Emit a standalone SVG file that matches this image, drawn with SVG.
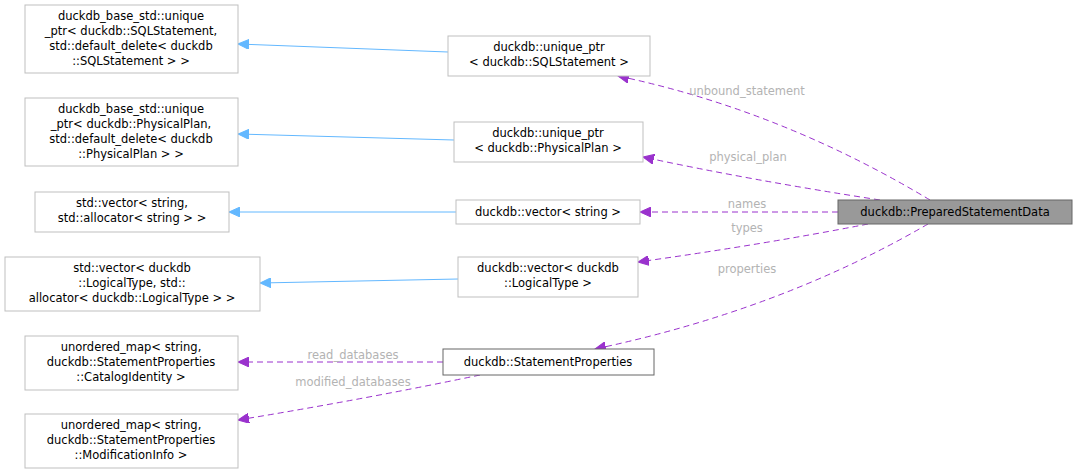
<svg xmlns="http://www.w3.org/2000/svg" width="1077" height="474" viewBox="0 0 1077 474">
<defs>
<marker id="blue" markerWidth="12" markerHeight="10" refX="11" refY="5" orient="auto" markerUnits="userSpaceOnUse"><path d="M0,0 L11,5 L0,10 Z" fill="#63b8ff" stroke="#63b8ff"/></marker>
<marker id="purp" markerWidth="12" markerHeight="10" refX="11" refY="5" orient="auto" markerUnits="userSpaceOnUse"><path d="M0,0 L11,5 L0,10 Z" fill="#9a32cd" stroke="#9a32cd"/></marker>
</defs>
<style>
rect{fill:#fff;stroke:#bfbfbf;stroke-width:1}
text{font-family:"DejaVu Sans",sans-serif;font-size:11.5px;fill:#000;text-anchor:middle}
.lbl{fill:#b3b3b3;font-size:11.5px}
.inh{stroke:#63b8ff;fill:none;stroke-width:1}
.use{stroke:#9a32cd;fill:none;stroke-width:1;stroke-dasharray:6,4}
</style>
<rect width="1077" height="474" style="fill:#fff;stroke:none"/>
<g id="connectors">
<path class="inh" d="M448,52 L238,44" marker-end="url(#blue)"/>
<path class="inh" d="M454,140 L238,134" marker-end="url(#blue)"/>
<path class="inh" d="M456,212 L229,212" marker-end="url(#blue)"/>
<path class="inh" d="M458,279 L260,283" marker-end="url(#blue)"/>
<path class="use" d="M930,200 Q780,110 618,76" marker-end="url(#purp)"/>
<path class="use" d="M880,200 Q750,180 643,157" marker-end="url(#purp)"/>
<path class="use" d="M838,212 L640,212" marker-end="url(#purp)"/>
<path class="use" d="M868,224 Q760,245 638,262" marker-end="url(#purp)"/>
<path class="use" d="M928,224 Q780,310 595,349" marker-end="url(#purp)"/>
<path class="use" d="M443,362 L238,362" marker-end="url(#purp)"/>
<path class="use" d="M480,375 Q360,400 238,420" marker-end="url(#purp)"/>
<text class="lbl" x="747" y="95">unbound_statement</text>
<text class="lbl" x="748" y="161">physical_plan</text>
<text class="lbl" x="747" y="208">names</text>
<text class="lbl" x="747" y="232">types</text>
<text class="lbl" x="747" y="273">properties</text>
<text class="lbl" x="353" y="359">read_databases</text>
<text class="lbl" x="353" y="386">modified_databases</text>
</g>
<g id="nA"><rect x="25" y="5" width="213" height="68"/><text x="131" y="20">duckdb_base_std::unique</text><text x="131" y="35">_ptr&lt; duckdb::SQLStatement,</text><text x="131" y="50">std::default_delete&lt; duckdb</text><text x="131" y="65">::SQLStatement &gt; &gt;</text></g>
<g id="nB"><rect x="25" y="98" width="213" height="68"/><text x="131" y="113">duckdb_base_std::unique</text><text x="131" y="128">_ptr&lt; duckdb::PhysicalPlan,</text><text x="131" y="143"> std::default_delete&lt; duckdb</text><text x="131" y="158">::PhysicalPlan &gt; &gt;</text></g>
<g id="nC"><rect x="35" y="192" width="194" height="40"/><text x="132" y="207">std::vector&lt; string,</text><text x="132" y="222"> std::allocator&lt; string &gt; &gt;</text></g>
<g id="nD"><rect x="5" y="257" width="255" height="54"/><text x="132" y="272">std::vector&lt; duckdb</text><text x="132" y="287">::LogicalType, std::</text><text x="132" y="302">allocator&lt; duckdb::LogicalType &gt; &gt;</text></g>
<g id="nE"><rect x="25" y="336" width="213" height="54"/><text x="131" y="351">unordered_map&lt; string,</text><text x="131" y="366"> duckdb::StatementProperties</text><text x="131" y="381">::CatalogIdentity &gt;</text></g>
<g id="nF"><rect x="25" y="414" width="213" height="54"/><text x="131" y="429">unordered_map&lt; string,</text><text x="131" y="444"> duckdb::StatementProperties</text><text x="131" y="459">::ModificationInfo &gt;</text></g>
<g id="nG"><rect x="448" y="36" width="202" height="40"/><text x="549" y="51">duckdb::unique_ptr</text><text x="549" y="66">&lt; duckdb::SQLStatement &gt;</text></g>
<g id="nH"><rect x="454" y="122" width="189" height="40"/><text x="548" y="137">duckdb::unique_ptr</text><text x="548" y="152">&lt; duckdb::PhysicalPlan &gt;</text></g>
<g id="nI"><rect x="456" y="200" width="184" height="24"/><text x="548" y="216">duckdb::vector&lt; string &gt;</text></g>
<g id="nJ"><rect x="458" y="257" width="180" height="40"/><text x="548" y="272">duckdb::vector&lt; duckdb</text><text x="548" y="287">::LogicalType &gt;</text></g>
<g id="nK"><rect x="443" y="349" width="211" height="26" style="stroke:#666"/><text x="548" y="366">duckdb::StatementProperties</text></g>
<g id="nL"><rect x="838" y="200" width="234" height="24" style="fill:#999;stroke:#666"/><text x="955" y="216">duckdb::PreparedStatementData</text></g>
</svg>
